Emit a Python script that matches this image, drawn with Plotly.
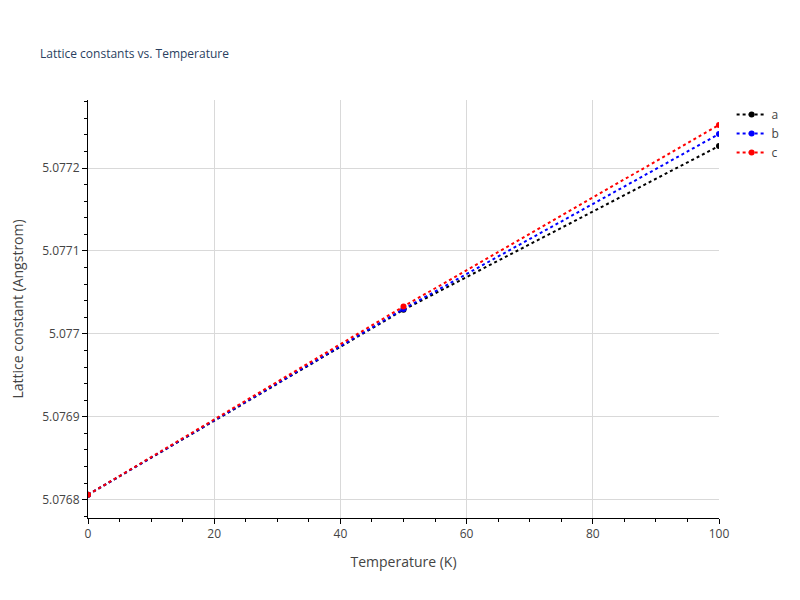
import plotly.graph_objects as go

temps = [0, 50, 100]
a_vals = [5.076806, 5.077029, 5.0772265]
b_vals = [5.076806, 5.077030, 5.077241]
c_vals = [5.076806, 5.077033, 5.077252]
series = [("a", a_vals, "black"), ("b", b_vals, "blue"), ("c", c_vals, "red")]

fig = go.Figure()
for name, vals, col in series:
    fig.add_trace(go.Scatter(x=temps, y=vals, name=name, mode="lines+markers",
                             line=dict(color=col, dash="dot", width=2),
                             marker=dict(color=col, size=6)))

axis_common = dict(showline=True, linecolor="black", linewidth=1, ticks="outside",
                   tickcolor="black", ticklen=5, showgrid=True, gridcolor="#d9d9d9",
                   zeroline=False, minor=dict(ticks="outside", ticklen=3, tickcolor="black"),
                   tickfont=dict(size=12, color="#444"), title_font=dict(size=14, color="#444"))
fig.update_layout(
    width=800, height=600, template="plotly_white",
    plot_bgcolor="white", paper_bgcolor="white",
    title=dict(text="Lattice constants vs. Temperature", x=0.04, y=0.93, font=dict(size=12, color="#2a3f5f")),
    margin=dict(l=80, r=89, t=92, b=90, autoexpand=False),
    xaxis=dict(title="Temperature (K)", range=[0, 100], dtick=20, **axis_common),
    yaxis=dict(title="Lattice constant (Angstrom)", range=[5.076778, 5.077282], dtick=0.0001,
               tickformat="", **axis_common),
    legend=dict(x=1.02, y=1, font=dict(size=12, color="#444")),
)
fig.write_html("out.html")
